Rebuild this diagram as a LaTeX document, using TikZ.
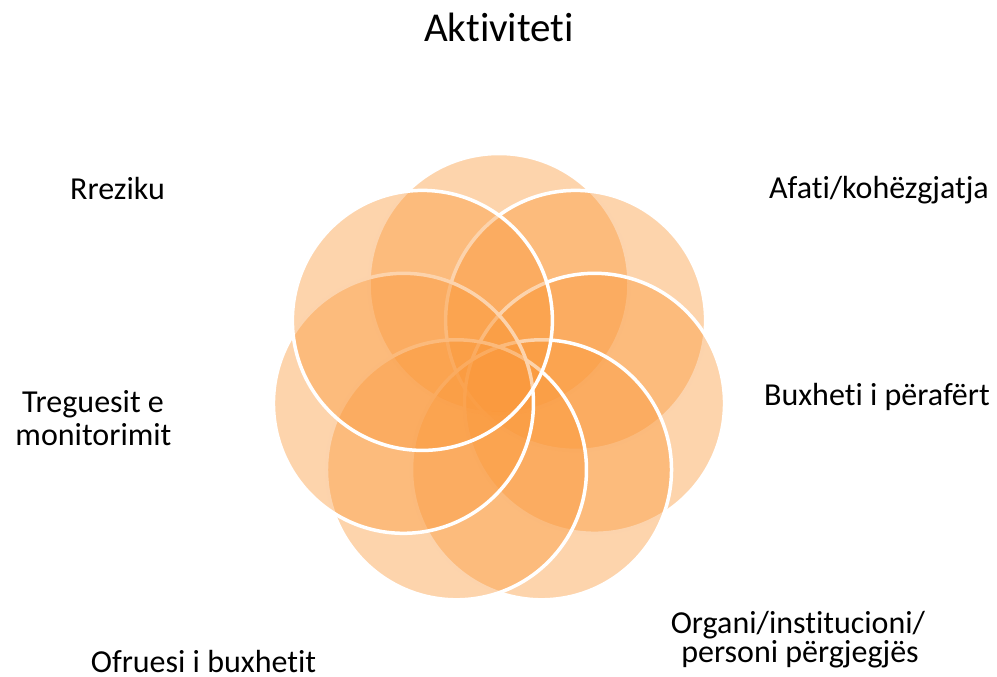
\documentclass[tikz,border=0pt]{standalone}
\usepackage{fontspec}
\setmainfont{Carlito}[Ligatures={NoCommon,NoContextual}]
\usepackage{tikz}

\definecolor{petalorange}{RGB}{250,152,58}
\tikzset{
    petal/.style={fill=petalorange, fill opacity=0.42, draw=white, line width=3.5pt},
    lbl/.style={font=\fontsize{32}{32}\selectfont, inner sep=0pt, text=black},
    titlelbl/.style={font=\fontsize{41}{41}\selectfont, inner sep=0pt, text=black},
}

\begin{document}
\begin{tikzpicture}[x=1pt, y=-1pt]
\useasboundingbox (0,0) rectangle (997,677);

% Draw petals
\coordinate (ctr) at (499,381.5);
\foreach \i in {0,...,6} {
    \pgfmathsetmacro{\angle}{-90+\i*360/7}
    \path[petal] (ctr) ++(\angle:98) circle (130);
}

% Labels
\node[titlelbl, anchor=base] (aktiviteti) at (499,42) {Aktiviteti};
\node[lbl, anchor=base east] (afati) at (989,198) {Afati/kohëzgjatja};
\node[lbl, anchor=base east] (buxheti) at (990,405) {Buxheti i përafërt};
\node[lbl, anchor=base] (organi) at (798,633) {Organi/institucioni/};
\node[lbl, anchor=base] (personi) at (800,662) {personi përgjegjës};
\node[lbl, anchor=base] (ofruesi) at (203.5,672) {Ofruesi i buxhetit};
\node[lbl, anchor=base] (treguesit) at (93,412) {Treguesit e};
\node[lbl, anchor=base] (monitorimit) at (93.5,445) {monitorimit};
\node[lbl, anchor=base] (rreziku) at (117.5,199) {Rreziku};
\end{tikzpicture}
\end{document}
